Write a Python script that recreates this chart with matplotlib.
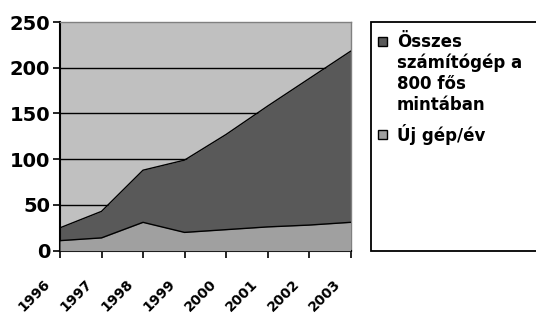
import numpy as np
import matplotlib
matplotlib.use("Agg")
import matplotlib.pyplot as plt
from matplotlib.patches import Rectangle

years = ["1996", "1997", "1998", "1999", "2000", "2001", "2002", "2003"]
total_pcs = [25, 43, 88, 99, 127, 158, 188, 218]
new_per_year = [11, 14, 31, 20, 23, 26, 28, 31]
series_labels = ["Összes\nszámítógép a\n800 fős\nmintában", "Új gép/év"]
y_ticks = [0, 50, 100, 150, 200, 250]

dark = "#595959"
light = "#A0A0A0"
bg = "#C0C0C0"

W, H = 536, 314
plt.rcParams['font.family'] = ['DejaVu Sans']
plt.rcParams['font.weight'] = 'bold'

fig = plt.figure(figsize=(W / 100, H / 100), dpi=100)
fig.patch.set_facecolor("white")

# plot area in pixels: x 60..350.5, y 22..250.7
ax = fig.add_axes([60 / W, 1 - 250.7 / H, 290.5 / W, 228.7 / H])
ax.set_facecolor(bg)

x = np.arange(len(years))
ax.fill_between(x, 0, total_pcs, color=dark, lw=0, zorder=2)
ax.plot(x, total_pcs, color="black", lw=1, zorder=3)
ax.fill_between(x, 0, new_per_year, color=light, lw=0, zorder=4)
ax.plot(x, new_per_year, color="black", lw=1, zorder=5)

for v in y_ticks[1:-1]:
    ax.axhline(v, color="black", lw=1, zorder=1)

ax.set_xlim(0, len(years) - 1)
ax.set_ylim(y_ticks[0], y_ticks[-1])
ax.set_yticks(y_ticks)
ax.set_xticks(x)
ax.set_xticklabels([])
ax.tick_params(axis="y", direction="out", length=5, width=1.2, pad=2,
               labelsize=14, color="black")
ax.tick_params(axis="x", direction="out", length=5, width=1.2, color="black")
for lab in ax.get_yticklabels():
    lab.set_fontweight("bold")

for s in ["left", "bottom"]:
    ax.spines[s].set_color("black")
    ax.spines[s].set_linewidth(1.5)
for s in ["top", "right"]:
    ax.spines[s].set_color("#808080")
    ax.spines[s].set_linewidth(1)

# rotated year labels
for i, yr in enumerate(years):
    px = 60 + i * 290.5 / (len(years) - 1)
    fig.text((px - 7) / W, 1 - 277 / H, yr, rotation=45, ha="right", va="top",
             fontsize=10, fontweight="bold")

# legend box
fig.patches.append(Rectangle((370.7 / W, 1 - 250.7 / H), 170 / W, 229 / H,
                             transform=fig.transFigure, facecolor="white",
                             edgecolor="black", lw=1.3))
marker_y = [41.5, 134]
text_y = [33, 124]
for lab, col, my, ty in zip(series_labels, [dark, light], marker_y, text_y):
    fig.patches.append(Rectangle((378 / W, 1 - (my + 4.5) / H), 9 / W, 9 / H,
                                 transform=fig.transFigure, facecolor=col,
                                 edgecolor="black", lw=1))
    fig.text(397 / W, 1 - ty / H, lab, ha="left", va="top", fontsize=12,
             fontweight="bold", linespacing=1.2)

fig.savefig("out.png", dpi=100)
